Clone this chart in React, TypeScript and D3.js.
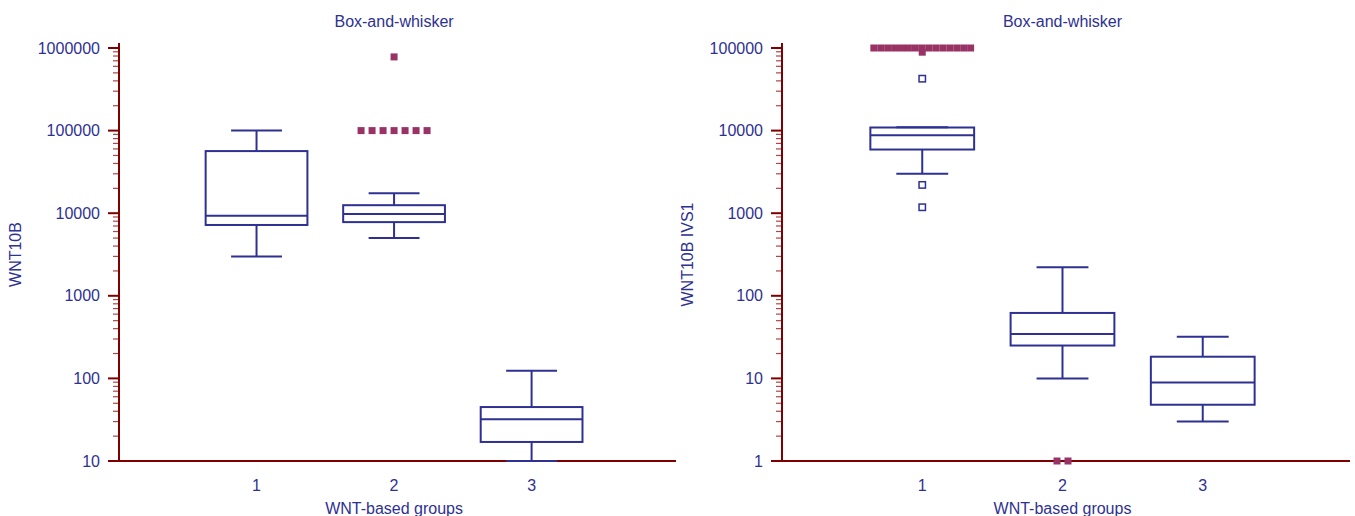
import React, { useEffect, useRef } from 'react';
import * as d3 from 'd3';

// group labels on the x axis
const groups = ["1", "2", "3"];

// WNT10B (left panel)
const wnt10bLow = [3000, 5000, 10];
const wnt10bQ1 = [7200, 7800, 17];
const wnt10bMedian = [9300, 9800, 32];
const wnt10bQ3 = [56500, 12500, 45];
const wnt10bHigh = [100000, 17500, 124];
const wnt10bOutside: number[][] = [[], [], []];
const wnt10bFarOut: number[][] = [
  [],
  [100000, 100000, 100000, 100000, 100000, 100000, 100000, 780000],
  [],
];
const wnt10bTicks = [10, 100, 1000, 10000, 100000, 1000000];

// WNT10B IVS1 (right panel)
const ivs1Low = [3000, 10, 3];
const ivs1Q1 = [5900, 25, 4.8];
const ivs1Median = [8800, 34.5, 8.9];
const ivs1Q3 = [10900, 62, 18.3];
const ivs1High = [11000, 221, 32];
const ivs1Outside: number[][] = [[42500, 2200, 1180], [], []];
const ivs1FarOut: number[][] = [
  [100000, 100000, 100000, 100000, 100000, 100000, 100000, 100000,
   100000, 100000, 100000, 100000, 100000, 100000, 100000, 89000],
  [1, 1],
  [],
];
const ivs1Ticks = [1, 10, 100, 1000, 10000, 100000];

const BLUE = "#2e3192";
const AXIS = "#7f0000";
const MINOR = "#a84848";
const FAR = "#993366";

interface PanelProps {
  low: number[];
  q1: number[];
  median: number[];
  q3: number[];
  high: number[];
  outside: number[][];
  farOut: number[][];
  ticks: number[];
  yLabel: string;
  axisX: number;
  axisEnd: number;
  yLabelX: number;
}

const BoxPanel: React.FC<PanelProps> = (p) => {
  const ref = useRef<SVGGElement | null>(null);

  useEffect(() => {
    if (!ref.current) return;
    const g = d3.select(ref.current);
    g.selectAll("*").remove();

    const top = 48, bottom = 461;
    const y = d3.scaleLog()
      .domain([p.ticks[0], p.ticks[p.ticks.length - 1]])
      .range([bottom, top]);
    const x = d3.scaleLinear().domain([0, 4.05]).range([p.axisX, p.axisEnd]);
    const step = x(1) - x(0);
    const boxW = step * 0.74;
    const capW = boxW / 2;
    const font = "'Liberation Sans', Arial, sans-serif";

    // minor ticks
    const minors: number[] = [];
    p.ticks.slice(0, -1).forEach(t => {
      for (let k = 2; k <= 9; k++) minors.push(t * k);
    });
    g.selectAll("line.minor").data(minors).join("line")
      .attr("class", "minor")
      .attr("x1", p.axisX - 6).attr("x2", p.axisX)
      .attr("y1", d => y(d)).attr("y2", d => y(d))
      .attr("stroke", MINOR).attr("stroke-width", 1.2);

    // major ticks + labels
    g.selectAll("line.major").data(p.ticks).join("line")
      .attr("class", "major")
      .attr("x1", p.axisX - 11).attr("x2", p.axisX)
      .attr("y1", d => y(d)).attr("y2", d => y(d))
      .attr("stroke", AXIS).attr("stroke-width", 2);
    g.selectAll("text.ytick").data(p.ticks).join("text")
      .attr("class", "ytick")
      .attr("x", p.axisX - 19)
      .attr("y", d => y(d) + 5.5)
      .attr("text-anchor", "end")
      .style("font-family", font).style("font-size", "16px")
      .attr("fill", BLUE)
      .text(d => String(d));

    // axis lines
    g.append("line")
      .attr("x1", p.axisX).attr("x2", p.axisX)
      .attr("y1", top - 5).attr("y2", bottom)
      .attr("stroke", AXIS).attr("stroke-width", 2);
    g.append("line")
      .attr("x1", p.axisX).attr("x2", p.axisEnd)
      .attr("y1", bottom).attr("y2", bottom)
      .attr("stroke", AXIS).attr("stroke-width", 2);

    // x tick labels
    g.selectAll("text.xtick").data(groups).join("text")
      .attr("class", "xtick")
      .attr("x", (_, i) => x(i + 1))
      .attr("y", 491)
      .attr("text-anchor", "middle")
      .style("font-family", font).style("font-size", "16px")
      .attr("fill", BLUE)
      .text(d => d);

    // titles
    g.append("text")
      .attr("x", x(2)).attr("y", 27)
      .attr("text-anchor", "middle")
      .style("font-family", font).style("font-size", "16px")
      .attr("fill", BLUE)
      .text("Box-and-whisker");
    g.append("text")
      .attr("x", x(2)).attr("y", 514)
      .attr("text-anchor", "middle")
      .style("font-family", font).style("font-size", "16px")
      .attr("fill", BLUE)
      .text("WNT-based groups");
    g.append("text")
      .attr("transform", `translate(${p.yLabelX}, ${(top + bottom) / 2}) rotate(-90)`)
      .attr("text-anchor", "middle")
      .style("font-family", font).style("font-size", "16px")
      .attr("fill", BLUE)
      .text(p.yLabel);

    // boxes
    groups.forEach((_, i) => {
      const cx = x(i + 1);
      const bg = g.append("g")
        .attr("stroke", BLUE).attr("stroke-width", 2).attr("fill", "none");
      bg.append("line")
        .attr("x1", cx).attr("x2", cx)
        .attr("y1", y(p.q3[i])).attr("y2", y(p.high[i]));
      bg.append("line")
        .attr("x1", cx).attr("x2", cx)
        .attr("y1", y(p.q1[i])).attr("y2", y(p.low[i]));
      [p.high[i], p.low[i]].forEach(v => {
        bg.append("line")
          .attr("x1", cx - capW / 2).attr("x2", cx + capW / 2)
          .attr("y1", y(v)).attr("y2", y(v));
      });
      bg.append("rect")
        .attr("x", cx - boxW / 2).attr("width", boxW)
        .attr("y", y(p.q3[i])).attr("height", y(p.q1[i]) - y(p.q3[i]));
      bg.append("line")
        .attr("x1", cx - boxW / 2).attr("x2", cx + boxW / 2)
        .attr("y1", y(p.median[i])).attr("y2", y(p.median[i]));

      // spread points that share a value
      const spread = (vals: number[]) => {
        const counts = d3.rollup(vals, v => v.length, v => v);
        const out: { v: number; px: number }[] = [];
        counts.forEach((n, v) => {
          const gap = n > 1 ? Math.min(11, (boxW - 7) / (n - 1)) : 0;
          for (let k = 0; k < n; k++) {
            out.push({ v, px: cx + (k - (n - 1) / 2) * gap });
          }
        });
        return out;
      };

      g.append("g").selectAll("rect").data(spread(p.outside[i])).join("rect")
        .attr("x", d => d.px - 3.2).attr("y", d => y(d.v) - 3.2)
        .attr("width", 6.4).attr("height", 6.4)
        .attr("fill", "white").attr("stroke", BLUE).attr("stroke-width", 1.5);
      g.append("g").selectAll("rect").data(spread(p.farOut[i])).join("rect")
        .attr("x", d => d.px - 3.5).attr("y", d => y(d.v) - 3.5)
        .attr("width", 7).attr("height", 7)
        .attr("fill", FAR);
    });
  }, [p]);

  return <g ref={ref} />;
};

const App: React.FC = () => {
  return (
    <svg width={1355} height={516}
      style={{ position: "absolute", left: 0, top: 0, background: "white" }}>
      <BoxPanel low={wnt10bLow} q1={wnt10bQ1} median={wnt10bMedian} q3={wnt10bQ3}
        high={wnt10bHigh} outside={wnt10bOutside} farOut={wnt10bFarOut}
        ticks={wnt10bTicks} yLabel="WNT10B" axisX={119} axisEnd={676} yLabelX={21} />
      <BoxPanel low={ivs1Low} q1={ivs1Q1} median={ivs1Median} q3={ivs1Q3}
        high={ivs1High} outside={ivs1Outside} farOut={ivs1FarOut}
        ticks={ivs1Ticks} yLabel="WNT10B IVS1" axisX={782} axisEnd={1350} yLabelX={693} />
    </svg>
  );
};

export default App;
